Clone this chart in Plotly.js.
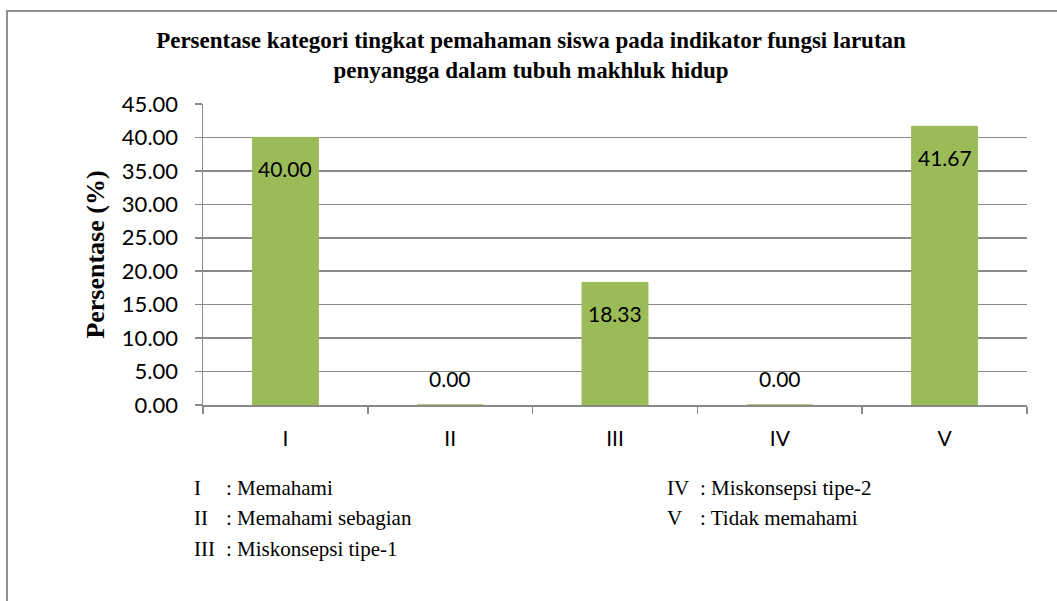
<!DOCTYPE html>
<html>
<head>
<meta charset="utf-8">
<script src="https://cdn.plot.ly/plotly-3.0.1.min.js"></script>
<style>
  html, body { margin: 0; padding: 0; background: #ffffff; }
  #frame { position: absolute; left: 6px; top: 10px; width: 1200px; height: 800px; border: 2px solid #8f8f8f; box-sizing: border-box; }
  #chart { position: absolute; left: 0; top: 0; width: 1057px; height: 601px; }
</style>
</head>
<body>
<div id="frame"></div>
<div id="chart"></div>
<script>
// ---- data ----
const categories = ["I", "II", "III", "IV", "V"];
const values = [40.00, 0.00, 18.33, 0.00, 41.67];
const legendCodes = ["I", "II", "III", "IV", "V"];
const legendNames = ["Memahami", "Memahami sebagian", "Miskonsepsi tipe-1", "Miskonsepsi tipe-2", "Tidak memahami"];
const titleText = "Persentase kategori tingkat pemahaman siswa pada indikator fungsi larutan<br>penyangga dalam tubuh makhluk hidup";
const yTitle = "Persentase (%)";

// ---- layout geometry ----
const W = 1057, H = 601;
const M = { l: 203, r: 30, t: 104, b: 196 };
const pw = W - M.l - M.r, ph = H - M.t - M.b;
const px = x => (x - M.l) / pw;
const py = y => (H - M.b - y) / ph;

const green = "#9BBB59";
const grid = "#8a8a8a";
const sans = "Lato, Open Sans, sans-serif";
const serif = "Liberation Serif, Times New Roman, serif";

const trace = {
  type: "bar",
  x: categories,
  y: values,
  width: 0.4,
  marker: { color: green, line: { color: green, width: 1 } },
  hoverinfo: "skip"
};

const annotations = [];
// data labels
categories.forEach((c, i) => {
  annotations.push({
    x: c, y: values[i], xref: "x", yref: "y",
    text: values[i].toFixed(2),
    showarrow: false,
    yanchor: "middle",
    yshift: values[i] > 0 ? -31 : 27,
    font: { family: sans, size: 21, color: "#000000" }
  });
});
// category legend below the chart
const legendPos = [
  { cx: 192, nx: 224, y: 488 },
  { cx: 192, nx: 224, y: 518 },
  { cx: 192, nx: 224, y: 549 },
  { cx: 665, nx: 698, y: 488 },
  { cx: 665, nx: 698, y: 518 }
];
legendCodes.forEach((code, i) => {
  const p = legendPos[i];
  annotations.push({
    x: px(p.cx), y: py(p.y), xref: "paper", yref: "paper",
    xanchor: "left", yanchor: "middle", showarrow: false,
    text: code, font: { family: serif, size: 21, color: "#000000" }
  });
  annotations.push({
    x: px(p.nx), y: py(p.y), xref: "paper", yref: "paper",
    xanchor: "left", yanchor: "middle", showarrow: false,
    text: ": " + legendNames[i], font: { family: serif, size: 21, color: "#000000" }
  });
});

const layout = {
  width: W, height: H,
  margin: M,
  paper_bgcolor: "rgba(0,0,0,0)",
  plot_bgcolor: "rgba(0,0,0,0)",
  showlegend: false,
  bargap: 0.6,
  title: {
    text: titleText,
    x: 531 / W, xref: "container", xanchor: "center",
    y: 1 - 48 / H, yref: "container", yanchor: "middle",
    font: { family: serif, size: 23, color: "#000000", weight: "bold" }
  },
  xaxis: {
    type: "category",
    showline: true, linecolor: grid, linewidth: 1.5,
    ticks: "outside", ticklen: 7, tickcolor: grid, tickwidth: 1.5,
    tickson: "boundaries",
    showgrid: false,
    ticklabelstandoff: 14,
    tickfont: { family: sans, size: 21, color: "#000000" },
    fixedrange: true
  },
  yaxis: {
    range: [0, 45], dtick: 5, tick0: 0,
    tickformat: ".2f",
    showline: true, linecolor: grid, linewidth: 1.5,
    ticks: "outside", ticklen: 7, tickcolor: grid, tickwidth: 1.5,
    showgrid: true, gridcolor: grid, gridwidth: 1.5,
    zeroline: false,
    ticklabelstandoff: 12,
    tickfont: { family: sans, size: 22, color: "#000000" },
    title: { text: yTitle, standoff: 10, font: { family: serif, size: 26, color: "#000000", weight: "bold" } },
    fixedrange: true
  },
  annotations: annotations
};

Plotly.newPlot("chart", [trace], layout, { staticPlot: true, displayModeBar: false });
</script>
</body>
</html>
